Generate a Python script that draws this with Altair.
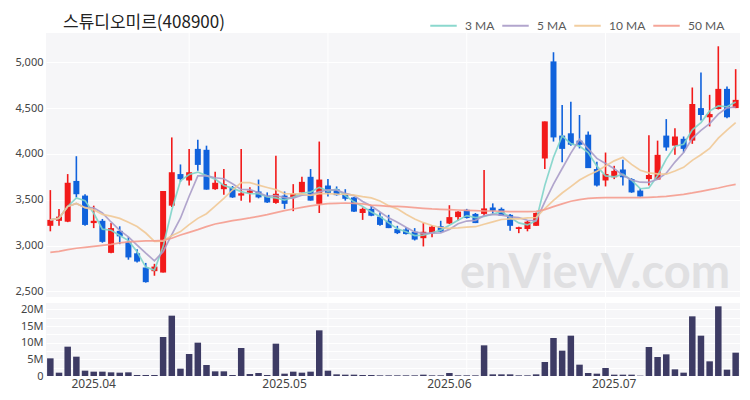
import altair as alt
import pandas as pd

dates = [
    "2025-03-25", "2025-03-26", "2025-03-27", "2025-03-28", "2025-03-31",
    "2025-04-01", "2025-04-02", "2025-04-03", "2025-04-04", "2025-04-07", "2025-04-08",
    "2025-04-09", "2025-04-10", "2025-04-11", "2025-04-14", "2025-04-15", "2025-04-16",
    "2025-04-17", "2025-04-18", "2025-04-21", "2025-04-22", "2025-04-23", "2025-04-24",
    "2025-04-25", "2025-04-28", "2025-04-29", "2025-04-30",
    "2025-05-02", "2025-05-07", "2025-05-08", "2025-05-09", "2025-05-12", "2025-05-13",
    "2025-05-14", "2025-05-15", "2025-05-16", "2025-05-19", "2025-05-20", "2025-05-21",
    "2025-05-22", "2025-05-23", "2025-05-26", "2025-05-27", "2025-05-28", "2025-05-29",
    "2025-05-30",
    "2025-06-02", "2025-06-04", "2025-06-05", "2025-06-09", "2025-06-10", "2025-06-11",
    "2025-06-12", "2025-06-13", "2025-06-16", "2025-06-17", "2025-06-18", "2025-06-19",
    "2025-06-20", "2025-06-23", "2025-06-24", "2025-06-25", "2025-06-26", "2025-06-27",
    "2025-06-30",
    "2025-07-01", "2025-07-02", "2025-07-03", "2025-07-04", "2025-07-07", "2025-07-08",
    "2025-07-09", "2025-07-10", "2025-07-11", "2025-07-14", "2025-07-15", "2025-07-16",
    "2025-07-17", "2025-07-18", "2025-07-21",
]

opens = [3215, 3270, 3260, 3705, 3545, 3245, 3270, 2920, 3160, 3040,
         2915, 2760, 2720, 2705, 3435, 3780, 3710, 4055, 4045, 3615,
         3615, 3635, 3545, 3575, 3590, 3545, 3465, 3545, 3525, 3580,
         3750, 3455, 3655, 3615, 3565, 3525, 3355, 3400, 3315, 3270,
         3180, 3175, 3150, 3080, 3135, 3210, 3240, 3310, 3390, 3345,
         3345, 3415, 3400, 3335, 3180, 3180, 3215, 3950, 5010, 4200,
         4225, 4145, 4210, 3835, 3710, 3745, 3830, 3725, 3600, 3725,
         3720, 4200, 4090, 4165, 4145, 4500, 4400, 4490, 4710, 4500]
highs = [3605, 3400, 3780, 3975, 3560, 3435, 3290, 3245, 3210, 3090,
         2960, 2810, 2800, 3595, 4180, 3885, 4055, 4155, 4090, 3805,
         3835, 3650, 4055, 3635, 3720, 3580, 3980, 3590, 3670, 3750,
         3835, 4135, 3725, 3645, 3615, 3530, 3415, 3435, 3360, 3335,
         3215, 3200, 3190, 3245, 3225, 3270, 3440, 3375, 3400, 3355,
         3825, 3460, 3415, 3345, 3205, 3270, 3360, 4355, 5110, 4535,
         4570, 4425, 4245, 3915, 4015, 3870, 3935, 3735, 3625, 4205,
         4145, 4380, 4280, 4190, 4725, 4890, 4645, 5175, 4735, 4925]
lows = [3155, 3215, 3255, 3525, 3215, 3190, 3030, 2915, 3015, 2845,
        2815, 2595, 2670, 2705, 3420, 3695, 3655, 3815, 3610, 3610,
        3555, 3520, 3490, 3470, 3515, 3465, 3455, 3400, 3375, 3580,
        3490, 3355, 3535, 3545, 3490, 3365, 3280, 3320, 3215, 3190,
        3125, 3120, 3055, 2990, 3090, 3145, 3235, 3270, 3295, 3245,
        3325, 3345, 3325, 3160, 3135, 3155, 3215, 3835, 4135, 3910,
        4090, 4060, 3845, 3645, 3645, 3725, 3655, 3575, 3535, 3655,
        3720, 4035, 3990, 4015, 4110, 4365, 4300, 4485, 4390, 4500]
closes = [3280, 3315, 3685, 3560, 3225, 3270, 3040, 3190, 3100, 2870,
          2825, 2600, 2770, 3595, 3800, 3725, 3800, 3880, 3610, 3685,
          3670, 3525, 3570, 3600, 3525, 3470, 3565, 3455, 3565, 3695,
          3490, 3720, 3575, 3550, 3510, 3370, 3400, 3325, 3225, 3190,
          3135, 3125, 3065, 3150, 3205, 3150, 3310, 3370, 3300, 3245,
          3405, 3380, 3325, 3215, 3200, 3260, 3355, 4355, 4180, 4055,
          4100, 4100, 3845, 3655, 3780, 3815, 3745, 3580, 3535, 3770,
          3990, 4070, 4190, 4055, 4545, 4425, 4435, 4710, 4400, 4590]
volumes_m = [5.3, 1.0, 8.8, 5.8, 1.6, 1.3, 1.3, 1.1, 1.0, 1.1,
             0.3, 0.3, 0.3, 11.7, 18.1, 2.2, 6.6, 10.0, 3.3, 1.4,
             1.4, 0.3, 8.4, 0.6, 0.9, 0.3, 9.7, 0.7, 1.3, 1.0,
             1.3, 13.7, 1.6, 0.5, 0.4, 0.4, 0.3, 0.3, 0.2, 0.2,
             0.2, 0.2, 0.2, 0.4, 0.2, 0.2, 0.9, 0.2, 0.2, 0.2,
             9.2, 0.5, 0.5, 0.5, 0.2, 0.2, 0.5, 4.2, 11.4, 7.6,
             12.1, 3.4, 0.9, 0.7, 2.4, 0.4, 0.4, 0.4, 0.1, 8.7,
             5.7, 6.5, 2.0, 1.0, 17.9, 12.1, 4.4, 20.9, 1.9, 7.0]
ma50 = [2926, 2937, 2955, 2970, 2980, 2991, 3002, 3013, 3028, 3039,
        3046, 3050, 3050, 3057, 3079, 3115, 3144, 3173, 3206, 3235,
        3253, 3271, 3286, 3301, 3319, 3337, 3359, 3381, 3399, 3417,
        3432, 3446, 3457, 3461, 3464, 3461, 3454, 3442, 3435, 3428,
        3428, 3421, 3413, 3406, 3399, 3395, 3392, 3388, 3384, 3381,
        3377, 3377, 3373, 3370, 3370, 3370, 3373, 3392, 3425, 3455,
        3483, 3501, 3515, 3521, 3523, 3523, 3523, 3523, 3523, 3526,
        3530, 3537, 3548, 3559, 3574, 3592, 3610, 3628, 3650, 3668]

month_ticks = ["2025-04-01", "2025-05-02", "2025-06-02", "2025-07-01"]
grid_dates = [dates[16], dates[32], dates[48], dates[64]]
ma_names = ["3 MA", "5 MA", "10 MA", "50 MA"]
ma_colors = ["#7fd4c9", "#aa9cc8", "#f1c996", "#f59c8e"]
price_ticks = [2500, 3000, 3500, 4000, 4500, 5000]
vol_ticks = [0, 2.5e6, 5e6, 7.5e6, 10e6, 12.5e6, 15e6, 17.5e6, 20e6]

UP = "#f21a1a"
DOWN = "#1062dc"
W = 694

df = pd.DataFrame({
    "idx": list(range(len(dates))),
    "date": dates,
    "open": opens,
    "high": highs,
    "low": lows,
    "close": closes,
    "volume": [v * 1e6 for v in volumes_m],
    "50 MA": ma50,
})

xscale = alt.Scale(domain=dates, paddingInner=0, paddingOuter=0)
pscale = alt.Scale(domain=[2438, 5320], nice=False, zero=False)
paxis = alt.Axis(values=price_ticks, format=",d", title=None, ticks=False, domain=False,
                 labelPadding=3, minExtent=33, maxExtent=33, gridColor="#ffffff",
                 gridWidth=1)
xnone = alt.X("date:O", scale=xscale, axis=None)
xaxis = alt.Axis(values=month_ticks, labelExpr="replace(slice(datum.value, 0, 7), '-', '.')",
                 labelAngle=0, ticks=False, domain=False, grid=False, labelPadding=2,
                 labelFontSize=12, title=None)
xlab = alt.X("date:O", scale=xscale, axis=xaxis)
candle_color = alt.condition("datum.close >= datum.open", alt.value(UP), alt.value(DOWN))

base = alt.Chart(df)

grid_df = pd.DataFrame({"date": grid_dates})
vgrid_p = alt.Chart(grid_df).mark_rule(color="#ffffff", strokeWidth=1).encode(x=xnone)
vgrid_v = alt.Chart(grid_df).mark_rule(color="#ffffff", strokeWidth=1).encode(x=xlab)

watermark = alt.Chart(pd.DataFrame({"t": ["enVievV.com"]})).mark_text(
    font="Lato", fontSize=47, fontWeight="bold", color="#e0e0e2", align="center",
    baseline="alphabetic"
).encode(text="t:N", x=alt.value(549), y=alt.value(255))

wicks = base.mark_rule(strokeWidth=1.6).encode(
    x=xnone,
    y=alt.Y("low:Q", scale=pscale, axis=paxis),
    y2="high:Q",
    color=candle_color,
)
bodies = base.mark_bar(size=6).encode(
    x=xnone,
    y=alt.Y("open:Q", scale=pscale, axis=paxis),
    y2="close:Q",
    color=candle_color,
)
lines = base.transform_window(
    **{"3 MA": "mean(close)"}, frame=[-2, 0], sort=[alt.SortField("idx")]
).transform_window(
    **{"5 MA": "mean(close)"}, frame=[-4, 0], sort=[alt.SortField("idx")]
).transform_window(
    **{"10 MA": "mean(close)"}, frame=[-9, 0], sort=[alt.SortField("idx")]
).transform_fold(ma_names, as_=["key", "value"]).mark_line(
    strokeWidth=1.7, opacity=0.9
).encode(
    x=xnone,
    y=alt.Y("value:Q", scale=pscale, axis=paxis),
    color=alt.Color("key:N", scale=alt.Scale(domain=ma_names, range=ma_colors),
                    legend=alt.Legend(title=None, orient="none", legendX=383, legendY=-22,
                                      direction="horizontal", symbolType="stroke",
                                      symbolSize=700, symbolStrokeWidth=2,
                                      labelFontSize=12, labelColor="#5a5a5a",
                                      labelOffset=7, columnPadding=3,
                                      labelFont="Lato")),
    order="idx:Q",
)

price = alt.layer(vgrid_p, watermark, wicks, bodies, lines).properties(
    width=W, height=264,
    title=alt.TitleParams("스튜디오미르(408900)", anchor="start", dx=50, fontSize=17,
                          font="Noto Sans CJK KR", fontWeight="normal", color="#222222",
                          offset=1),
)

vaxis = alt.Axis(values=vol_ticks, title=None, ticks=False, domain=False, labelPadding=3,
                 minExtent=33, maxExtent=33, gridColor="#ffffff", gridWidth=1,
                 labelExpr="datum.value % 5000000 == 0 ? (datum.value == 0 ? '0' : (datum.value / 1000000) + 'M') : ''")

vbars = base.mark_bar(size=6.5, color="#3d3b64").encode(
    x=xlab,
    y=alt.Y("volume:Q", scale=alt.Scale(domain=[0, 21.9e6], nice=False), axis=vaxis),
)
vol = alt.layer(vgrid_v, vbars).properties(width=W, height=73)

chart = alt.vconcat(price, vol, spacing=4).properties(
    padding={"left": 5, "top": 3, "right": 0, "bottom": 3}
).configure_view(
    fill="#f6f6f8", strokeWidth=0
).configure_axis(
    labelFont="Noto Sans", labelFontSize=11, labelColor="#444444"
)

chart.save("out.html", embed_options={"renderer": "svg", "actions": False})
